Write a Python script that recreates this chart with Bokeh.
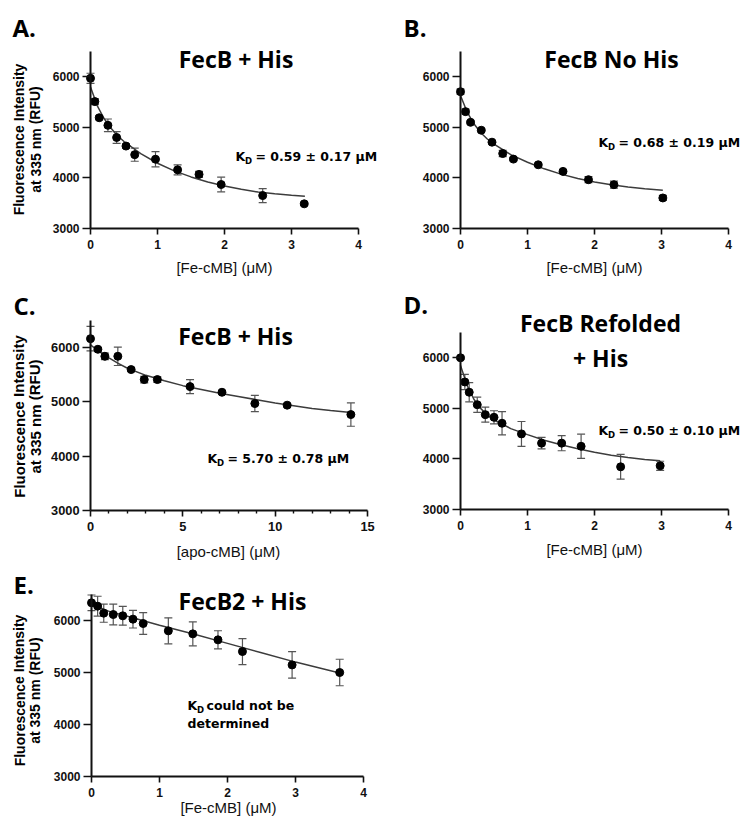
from bokeh.plotting import figure
from bokeh.layouts import column, row
from bokeh.models import Label, FixedTicker, Whisker, TeeHead, ColumnDataSource, Range1d
from bokeh.embed import file_html
from bokeh.resources import INLINE

# ---------------- data ----------------
# Panel A: FecB + His, [Fe-cMB]
a_x = [0, 0.065, 0.13, 0.26, 0.39, 0.53, 0.66, 0.97, 1.30, 1.62, 1.95, 2.57, 3.19]
a_y = [5970, 5510, 5190, 5040, 4800, 4630, 4460, 4370, 4160, 4070, 3870, 3651, 3488]
a_err = [100, 60, 40, 125, 115, 40, 130, 150, 100, 60, 145, 138, 30]
a_fit_x = [0, 0.1, 0.2, 0.3, 0.4, 0.5, 0.75, 1.0, 1.25, 1.5, 1.75, 2.0, 2.25, 2.5, 2.75, 3.0, 3.2]
a_fit_y = [5800, 5430, 5180, 4990, 4840, 4720, 4480, 4290, 4140, 4020, 3920, 3840, 3775, 3720, 3685, 3658, 3638]

# Panel B: FecB No His
b_x = [0, 0.075, 0.15, 0.31, 0.47, 0.63, 0.79, 1.16, 1.53, 1.91, 2.29, 3.02]
b_y = [5705, 5311, 5100, 4943, 4707, 4483, 4372, 4260, 4129, 3965, 3866, 3604]
b_err = [50, 50, 30, 30, 30, 60, 30, 30, 30, 60, 70, 50]
b_fit_x = [0, 0.1, 0.2, 0.3, 0.4, 0.5, 0.75, 1.0, 1.25, 1.5, 1.75, 2.0, 2.25, 2.5, 2.75, 3.02]
b_fit_y = [5630, 5300, 5070, 4900, 4770, 4670, 4460, 4310, 4180, 4075, 3990, 3920, 3865, 3820, 3785, 3755]

# Panel C: FecB + His, [apo-cMB]
c_x = [0, 0.4, 0.78, 1.48, 2.2, 2.91, 3.62, 5.39, 7.12, 8.9, 10.65, 14.1]
c_y = [6165, 5970, 5841, 5841, 5596, 5412, 5412, 5282, 5178, 4970, 4940, 4767]
c_err = [225, 30, 60, 170, 30, 60, 50, 130, 30, 150, 30, 215]
c_fit_x = [0, 0.5, 1, 1.5, 2, 3, 4, 5, 6, 7, 8, 9, 10, 11, 12, 13, 14.1]
c_fit_y = [6050, 5920, 5810, 5710, 5620, 5490, 5390, 5300, 5230, 5160, 5100, 5040, 4980, 4930, 4880, 4840, 4805]

# Panel D: FecB Refolded + His
d_x = [0, 0.065, 0.13, 0.25, 0.37, 0.5, 0.62, 0.91, 1.21, 1.51, 1.80, 2.39, 2.98]
d_y = [6000, 5522, 5319, 5072, 4876, 4823, 4705, 4495, 4312, 4312, 4250, 3844, 3864]
d_err = [30, 150, 190, 150, 150, 130, 230, 245, 115, 150, 240, 245, 90]
d_fit_x = [0, 0.1, 0.2, 0.3, 0.4, 0.5, 0.75, 1.0, 1.25, 1.5, 1.75, 2.0, 2.25, 2.5, 2.75, 2.98]
d_fit_y = [5850, 5450, 5180, 5000, 4870, 4770, 4600, 4480, 4370, 4280, 4200, 4130, 4075, 4030, 3990, 3965]

# Panel E: FecB2 + His
e_x = [0, 0.09, 0.18, 0.32, 0.46, 0.61, 0.76, 1.13, 1.49, 1.86, 2.22, 2.95, 3.65]
e_y = [6340, 6276, 6141, 6115, 6090, 6026, 5942, 5801, 5743, 5628, 5403, 5146, 5000]
e_err = [150, 190, 175, 200, 180, 170, 210, 250, 230, 175, 250, 255, 255]
e_fit_x = [0, 0.1, 0.25, 0.5, 0.75, 1.0, 1.5, 2.0, 2.5, 3.0, 3.65]
e_fit_y = [6330, 6260, 6180, 6090, 6000, 5910, 5740, 5560, 5380, 5200, 4990]

y_ticks = [3000, 4000, 5000, 6000]
fe_ticks = [0, 1, 2, 3, 4]
apo_ticks = [0, 5, 10, 15]
apo_minor = [1, 2, 3, 4, 6, 7, 8, 9, 11, 12, 13, 14]

Y_LABEL_1 = "Fluorescence Intensity"
Y_LABEL_2 = "at 335 nm (RFU)"
FE_LABEL = "[Fe-cMB] (\u03bcM)"
APO_LABEL = "[apo-cMB] (\u03bcM)"

TITLE_FONT = "Open Sans"
LETTER_FONT = "Open Sans"
AX_FONT = "Liberation Sans"
KD_FONT = "DejaVu Sans"


class Panel:
    """A figure whose frame is the whole figure; the visible axes sit at fixed data locations."""

    def __init__(self, fig, xr, xpx, ypx, yr=(3000, 6500), fscale=1.0):
        self.fl, self.ft, self.fw, self.fh = fig
        self.x0, self.x1 = xr
        self.y0, self.y1 = yr
        self.px0, self.px1 = xpx      # page px of x0, x1
        self.py0, self.py1 = ypx      # page px of y0 (bottom), y1 (top)
        self.fscale = fscale
        self.p = figure(width=self.fw, height=self.fh, output_backend="svg",
                        toolbar_location=None, title=None,
                        x_range=Range1d(self.dx(self.fl), self.dx(self.fl + self.fw)),
                        y_range=Range1d(self.dy(self.ft + self.fh), self.dy(self.ft)),
                        min_border_left=0, min_border_right=0,
                        min_border_top=0, min_border_bottom=0)
        p = self.p
        p.outline_line_color = None
        p.grid.visible = False
        p.background_fill_color = "white"
        p.border_fill_color = "white"

    def dx(self, px):
        return self.x0 + (px - self.px0) / (self.px1 - self.px0) * (self.x1 - self.x0)

    def dy(self, py):
        return self.y0 + (self.py0 - py) / (self.py0 - self.py1) * (self.y1 - self.y0)

    def text(self, px, py, txt, font, size, style="bold", align="left",
             baseline="middle", angle=0.0, color="black"):
        self.p.add_layout(Label(x=self.dx(px), y=self.dy(py), text=txt,
                                text_font=font, text_font_size=f"{size}px",
                                text_font_style=style, text_align=align,
                                text_baseline=baseline, angle=angle,
                                text_color=color))


def build(panel, xs, ys, errs, fx, fy, xticks, minor=None):
    p = panel.p
    s = panel.fscale
    xa = p.xaxis[0]
    xa.ticker = FixedTicker(ticks=xticks, minor_ticks=minor or [])
    xa.bounds = (panel.x0, panel.x1)
    xa.fixed_location = panel.y0
    ya = p.yaxis[0]
    ya.ticker = FixedTicker(ticks=y_ticks)
    ya.bounds = (panel.y0, panel.y1)
    ya.fixed_location = panel.x0
    for ax in (xa, ya):
        ax.axis_line_width = 2
        ax.axis_line_color = "#111111"
        ax.major_tick_line_width = 1.6
        ax.major_tick_line_color = "#111111"
        ax.major_tick_in = 0
        ax.major_label_text_font = AX_FONT
        ax.major_label_text_font_style = "bold"
        ax.major_label_text_font_size = f"{12 * s:.1f}px"
        ax.major_label_text_color = "#111111"
    xa.major_tick_out = 6
    xa.major_label_standoff = 5
    ya.major_tick_out = 8
    ya.major_label_standoff = 3
    if minor:
        xa.minor_tick_out = 3
        xa.minor_tick_in = 0
        xa.minor_tick_line_width = 1.4
        xa.minor_tick_line_color = "#111111"
    else:
        xa.minor_tick_line_color = None
    ya.minor_tick_line_color = None

    p.line(fx, fy, line_color="#3c3c3c", line_width=1.5)
    src = ColumnDataSource(dict(x=xs, y=ys,
                                upper=[v + e for v, e in zip(ys, errs)],
                                lower=[v - e for v, e in zip(ys, errs)]))
    w = Whisker(base="x", upper="upper", lower="lower", source=src,
                dimension="height", line_color="#555555", line_width=1.2,
                upper_head=TeeHead(size=8, line_color="#555555", line_width=1.2),
                lower_head=TeeHead(size=8, line_color="#555555", line_width=1.2))
    p.add_layout(w)
    p.scatter("x", "y", source=src, size=8, color="black")


def y_label(panel, x1, x2, yc, size=14):
    panel.text(x1, yc, Y_LABEL_1, AX_FONT, size, align="center", angle=1.5708)
    panel.text(x2, yc, Y_LABEL_2, AX_FONT, size, align="center", angle=1.5708)


def kd(panel, px, py, rest):
    panel.text(px, py, "K", KD_FONT, 12.5)
    panel.text(px + 9.5, py + 4, "D", KD_FONT, 8.5)
    panel.text(px + 20, py, rest, KD_FONT, 12.5)


TS = 23     # title font size
LS = 24     # panel letter size
XL_COLOR = "#111111"

# ---------------- panels (page pixel geometry) ----------------
A = Panel((0, 0, 380, 284), (0, 4), (90, 358), (228, 51))
build(A, a_x, a_y, a_err, a_fit_x, a_fit_y, fe_ticks)
A.text(12, 27, "A.", LETTER_FONT, LS)
A.text(235.5, 58, "FecB + His", TITLE_FONT, TS, align="center")
kd(A, 235, 156, "= 0.59 \u00b1 0.17 \u03bcM")
y_label(A, 18.5, 35, 139)
A.text(224, 267, FE_LABEL, AX_FONT, 15, style="normal", align="center", color=XL_COLOR)

B = Panel((380, 0, 361, 284), (0, 4), (460, 728), (228, 51))
build(B, b_x, b_y, b_err, b_fit_x, b_fit_y, fe_ticks)
B.text(403, 27, "B.", LETTER_FONT, LS)
B.text(611, 58, "FecB No His", TITLE_FONT, TS, align="center")
kd(B, 598, 142, "= 0.68 \u00b1 0.19 \u03bcM")
B.text(594, 267, FE_LABEL, AX_FONT, 15, style="normal", align="center", color=XL_COLOR)

C = Panel((0, 284, 383, 279), (0, 15), (90, 367), (510, 320), fscale=1.07)
build(C, c_x, c_y, c_err, c_fit_x, c_fit_y, apo_ticks, apo_minor)
C.text(13, 305, "C.", LETTER_FONT, LS)
C.text(235, 335, "FecB + His", TITLE_FONT, TS, align="center")
kd(C, 207, 458, "= 5.70 \u00b1 0.78 \u03bcM")
y_label(C, 18.5, 34.5, 416, size=15)
C.text(228, 551, APO_LABEL, AX_FONT, 15, style="normal", align="center", color=XL_COLOR)

D = Panel((383, 284, 358, 279), (0, 4), (460, 728), (509, 332))
build(D, d_x, d_y, d_err, d_fit_x, d_fit_y, fe_ticks)
D.text(403, 304, "D.", LETTER_FONT, LS)
D.text(600, 322, "FecB Refolded", TITLE_FONT, TS, align="center")
D.text(600, 357, "+ His", TITLE_FONT, TS, align="center")
kd(D, 598, 430, "= 0.50 \u00b1 0.10 \u03bcM")
D.text(594, 549, FE_LABEL, AX_FONT, 15, style="normal", align="center", color=XL_COLOR)

E = Panel((0, 563, 380, 259), (0, 4), (91, 363), (776, 594))
build(E, e_x, e_y, e_err, e_fit_x, e_fit_y, fe_ticks)
E.text(13, 584, "E.", LETTER_FONT, LS)
E.text(242, 600, "FecB2 + His", TITLE_FONT, TS, align="center")
E.text(187, 705, "K", KD_FONT, 12.5)
E.text(196.5, 709, "D", KD_FONT, 8.5)
E.text(206, 705, "could not be", KD_FONT, 12.5)
E.text(187, 723, "determined", KD_FONT, 12.5)
y_label(E, 19, 34.5, 690)
E.text(228, 807, FE_LABEL, AX_FONT, 15, style="normal", align="center", color=XL_COLOR)

layout = column(row(A.p, B.p), row(C.p, D.p), row(E.p))

with open("out.html", "w") as f:
    f.write(file_html(layout, INLINE))
